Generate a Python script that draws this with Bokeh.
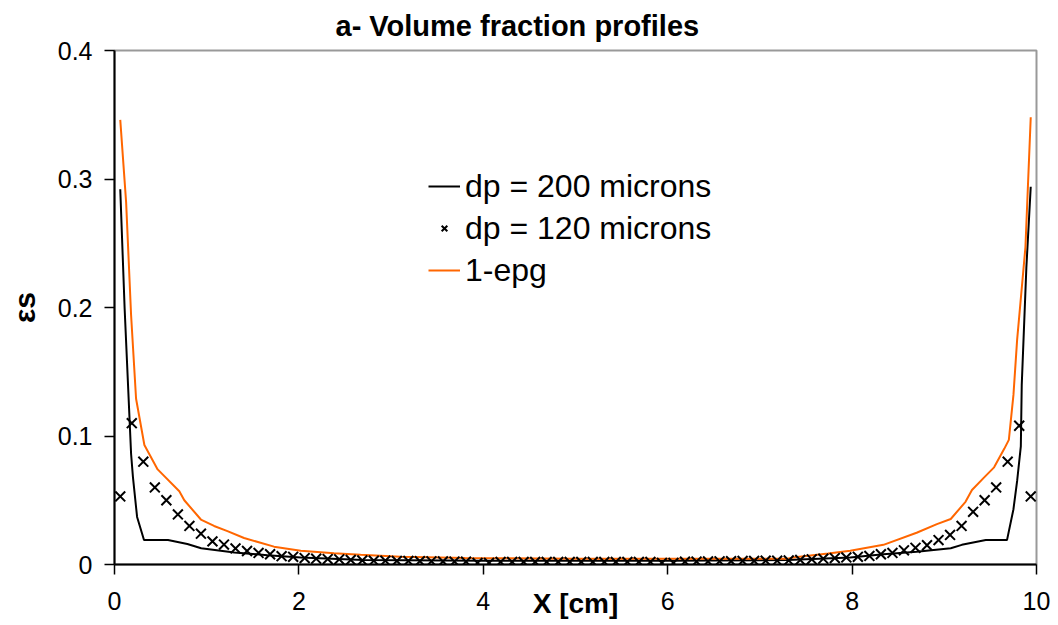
from bokeh.plotting import figure
from bokeh.models import Legend, LegendItem, FixedTicker, Range1d
from bokeh.embed import file_html
from bokeh.resources import INLINE

# ---- data ----
x_black = [0.0625, 0.11, 0.18, 0.2, 0.245, 0.32, 0.58, 0.79, 0.94, 1.3, 1.66, 2.02, 2.7, 4.0,
           6.0, 7.3, 7.98, 8.34, 8.70, 9.07, 9.19, 9.45, 9.68, 9.75, 9.79, 9.83, 9.84, 9.89, 9.9375]
y_black = [0.292, 0.199, 0.086, 0.068, 0.037, 0.019, 0.019, 0.016, 0.0126, 0.0094, 0.0072, 0.0055, 0.0035, 0.003,
           0.003, 0.0035, 0.0055, 0.008, 0.0099, 0.0126, 0.0153, 0.019, 0.019, 0.043, 0.065, 0.092, 0.14, 0.231, 0.294]

x_orange = [0.0625, 0.126, 0.18, 0.234, 0.324, 0.468, 0.703, 0.757, 0.937, 1.08, 1.225, 1.405, 1.73, 2.02,
            2.38, 2.67, 3.1, 3.8, 5.0, 7.3, 7.36, 7.74, 7.98, 8.34, 8.70, 8.92, 9.07, 9.23, 9.30, 9.43,
            9.54, 9.65, 9.70, 9.75, 9.79, 9.88, 9.9375]
y_orange = [0.346, 0.282, 0.194, 0.129, 0.093, 0.074, 0.057, 0.050, 0.035, 0.030, 0.026, 0.0206, 0.0139, 0.0107,
            0.0088, 0.0075, 0.006, 0.005, 0.0045, 0.0045, 0.0055, 0.0085, 0.0107, 0.0153, 0.0247, 0.0314, 0.0354, 0.0488, 0.058, 0.0676,
            0.0756, 0.090, 0.097, 0.132, 0.175, 0.247, 0.348]

x_cross = [0.0625, 0.1875, 0.3125, 0.4375, 0.5625, 0.6875, 0.8125, 0.9375, 1.0625, 1.1875,
           1.3125, 1.4375, 1.5625, 1.6875, 1.8125, 1.9375, 2.0625, 2.1875, 2.3125, 2.4375,
           2.5625, 2.6875, 2.8125, 2.9375, 3.0625, 3.1875, 3.3125, 3.4375, 3.5625, 3.6875,
           3.8125, 3.9375, 4.0625, 4.1875, 4.3125, 4.4375, 4.5625, 4.6875, 4.8125, 4.9375,
           5.0625, 5.1875, 5.3125, 5.4375, 5.5625, 5.6875, 5.8125, 5.9375, 6.0625, 6.1875,
           6.3125, 6.4375, 6.5625, 6.6875, 6.8125, 6.9375, 7.0625, 7.1875, 7.3125, 7.4375,
           7.5625, 7.6875, 7.8125, 7.9375, 8.0625, 8.1875, 8.3125, 8.4375, 8.5625, 8.6875,
           8.8125, 8.9375, 9.0625, 9.1875, 9.3125, 9.4375, 9.5625, 9.6875, 9.8125, 9.9375]
y_cross = [0.053, 0.110, 0.080, 0.060, 0.050, 0.039, 0.030, 0.024, 0.018, 0.0155,
           0.0125, 0.0105, 0.009, 0.008, 0.0065, 0.006, 0.005, 0.0045, 0.0042, 0.004,
           0.0035, 0.0032, 0.003, 0.003, 0.0028, 0.0027, 0.0026, 0.0025, 0.0024, 0.0023,
           0.0022, 0.0012, 0.0012, 0.002, 0.002, 0.002, 0.002, 0.002, 0.002, 0.002,
           0.002, 0.002, 0.002, 0.002, 0.002, 0.002, 0.002, 0.0012, 0.0012, 0.0022,
           0.0023, 0.0024, 0.0025, 0.0026, 0.0027, 0.0028, 0.003, 0.003, 0.0032, 0.0035,
           0.004, 0.0045, 0.005, 0.0055, 0.006, 0.0067, 0.008, 0.009, 0.011, 0.013,
           0.015, 0.019, 0.023, 0.030, 0.041, 0.050, 0.060, 0.080, 0.108, 0.053]

x_ticks = [0, 2, 4, 6, 8, 10]
y_ticks = [0, 0.1, 0.2, 0.3, 0.4]
y_tick_labels = ["0", "0.1", "0.2", "0.3", "0.4"]

FONT = "Liberation Sans"

p = figure(width=1058, height=625, output_backend="svg", toolbar_location=None,
           x_range=Range1d(0, 10), y_range=Range1d(0, 0.4),
           min_border_left=114, min_border_right=22, min_border_top=50, min_border_bottom=61,
           title="a- Volume fraction profiles")
p.background_fill_color = "white"
p.border_fill_color = "white"
p.outline_line_color = "#999999"
p.outline_line_width = 2
p.xgrid.visible = False
p.ygrid.visible = False

p.title.align = "left"
p.title.offset = 221
p.title.text_font = FONT
p.title.text_font_size = "29px"
p.title.text_font_style = "bold"
p.title.text_color = "black"
p.title.standoff = 14
p.title.vertical_align = "top"

for ax in (p.xaxis[0], p.yaxis[0]):
    ax.axis_line_color = "black"
    ax.axis_line_width = 2
    ax.major_tick_line_color = "black"
    ax.major_tick_line_width = 1.5
    ax.major_tick_out = 10
    ax.major_tick_in = 0
    ax.minor_tick_line_color = None
    ax.major_label_text_font = FONT
    ax.major_label_text_font_size = "25px"
    ax.major_label_text_color = "black"
    ax.axis_label_text_font = FONT
    ax.axis_label_text_font_style = "bold"
    ax.axis_label_text_color = "black"

p.xaxis.ticker = FixedTicker(ticks=x_ticks)
p.yaxis.ticker = FixedTicker(ticks=y_ticks)
p.yaxis.major_label_overrides = {v: s for v, s in zip(y_ticks, y_tick_labels)}
p.xaxis.major_label_standoff = 17
p.yaxis.major_label_standoff = 12

p.xaxis.axis_label = "X [cm]"
p.xaxis.axis_label_text_font_size = "28px"
p.xaxis.axis_label_standoff = -25
p.yaxis.axis_label = "εs"
p.yaxis.axis_label_text_font_size = "30px"
p.yaxis.axis_label_standoff = 14

r_black = p.line(x_black, y_black, line_color="black", line_width=2)
r_orange = p.line(x_orange, y_orange, line_color="#FF6600", line_width=2)
r_cross = p.scatter(x_cross, y_cross, marker="x", size=14, line_color="black", line_width=2)

legend = Legend(items=[LegendItem(label="dp = 200 microns", renderers=[r_black]),
                       LegendItem(label="dp = 120 microns", renderers=[r_cross]),
                       LegendItem(label="1-epg", renderers=[r_orange])],
                location=(314, 273), padding=0, margin=0, spacing=0,
                glyph_width=32, glyph_height=20, label_height=42, label_standoff=5,
                label_text_font=FONT, label_text_font_size="32px", label_text_color="black",
                border_line_color=None, background_fill_alpha=0)
p.add_layout(legend)

open("out.html", "w").write(file_html(p, INLINE))
